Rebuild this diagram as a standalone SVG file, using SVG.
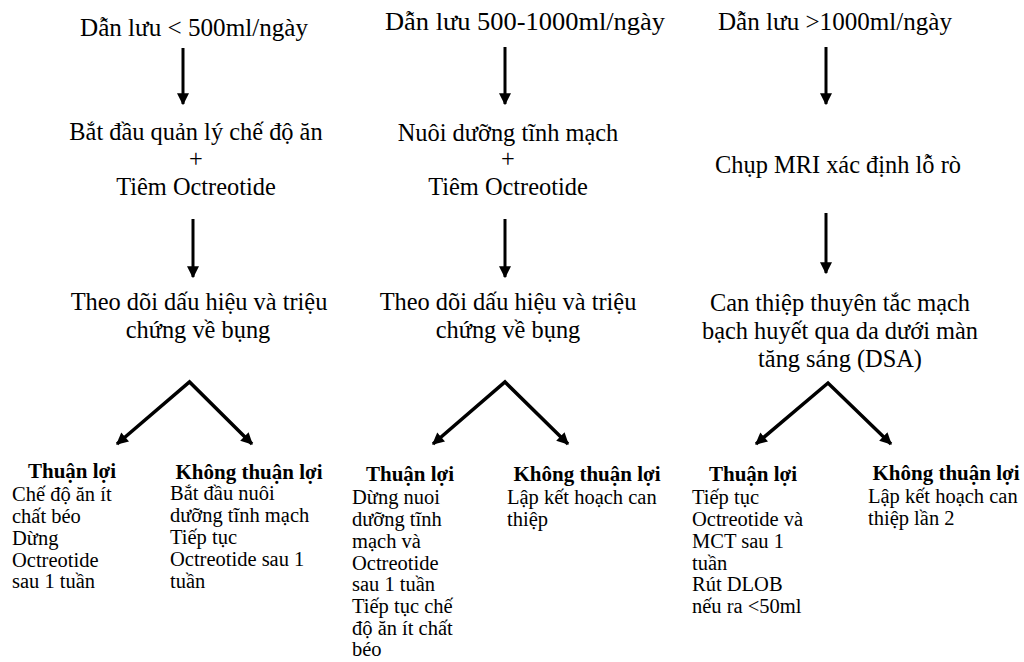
<svg xmlns="http://www.w3.org/2000/svg" width="1024" height="662" viewBox="0 0 1024 662">
<defs>
<style>
text{font-family:"Liberation Serif","Times New Roman",serif;fill:#000}
.t{font-size:26px}
.m{font-size:24.4px;text-anchor:middle}
.h{font-size:21px;font-weight:bold;text-anchor:middle}
.b{font-size:20.5px}
.c{stroke:#000;stroke-width:3;fill:none}
.d{stroke:#000;stroke-width:3.5;fill:none;stroke-linejoin:miter}
</style>
<marker id="ah" viewBox="0 0 10 10" refX="9" refY="5" markerWidth="4" markerHeight="4" orient="auto" markerUnits="strokeWidth">
<path d="M0,0 L10,5 L0,10 z" fill="#000"/>
</marker>
<marker id="ah2" viewBox="0 0 10 10" refX="9" refY="5" markerWidth="3.6" markerHeight="3.4" orient="auto-start-reverse" markerUnits="strokeWidth">
<path d="M0,0 L10,5 L0,10 z" fill="#000"/>
</marker>
</defs>
<rect width="1024" height="662" fill="#fff"/>

<g id="title1"><text class="t" x="80" y="36" textLength="228" lengthAdjust="spacingAndGlyphs">Dẫn lưu &lt; 500ml/ngày</text></g>
<g id="title2"><text class="t" x="385" y="30" textLength="280" lengthAdjust="spacingAndGlyphs">Dẫn lưu 500-1000ml/ngày</text></g>
<g id="title3"><text class="t" x="718" y="30" textLength="234" lengthAdjust="spacingAndGlyphs">Dẫn lưu &gt;1000ml/ngày</text></g>

<g id="step1a"><text class="m" x="196" y="140">Bắt đầu quản lý chế độ ăn</text><text class="m" x="196" y="167">+</text><text class="m" x="196" y="195">Tiêm Octreotide</text></g>
<g id="step2a"><text class="m" x="508" y="141">Nuôi dưỡng tĩnh mạch</text><text class="m" x="508" y="167">+</text><text class="m" x="508" y="195">Tiêm Octreotide</text></g>
<g id="step3a"><text class="m" x="838" y="173">Chụp MRI xác định lỗ rò</text></g>

<g id="step1b"><text class="m" x="199" y="310">Theo dõi dấu hiệu và triệu</text><text class="m" x="198" y="338">chứng về bụng</text></g>
<g id="step2b"><text class="m" x="508" y="310">Theo dõi dấu hiệu và triệu</text><text class="m" x="508" y="338">chứng về bụng</text></g>
<g id="step3b"><text class="m" x="840" y="311">Can thiệp thuyên tắc mạch</text><text class="m" x="840" y="339">bạch huyết qua da dưới màn</text><text class="m" x="840" y="367">tăng sáng (DSA)</text></g>

<g id="res1a"><text class="h" x="72" y="478">Thuận lợi</text><text class="b"><tspan x="12" y="501">Chế độ ăn ít</tspan><tspan x="12" y="523">chất béo</tspan><tspan x="12" y="545">Dừng</tspan><tspan x="12" y="567">Octreotide</tspan><tspan x="12" y="588">sau 1 tuần</tspan></text></g>
<g id="res1b"><text class="h" x="249" y="479">Không thuận lợi</text><text class="b"><tspan x="170" y="500">Bắt đầu nuôi</tspan><tspan x="170" y="522">dưỡng tĩnh mạch</tspan><tspan x="170" y="544">Tiếp tục</tspan><tspan x="170" y="566">Octreotide sau 1</tspan><tspan x="170" y="588">tuần</tspan></text></g>

<g id="res2a"><text class="h" x="410" y="481">Thuận lợi</text><text class="b"><tspan x="352" y="504">Dừng nuoi</tspan><tspan x="352" y="526">dưỡng tĩnh</tspan><tspan x="352" y="548">mạch và</tspan><tspan x="352" y="570">Octreotide</tspan><tspan x="352" y="591">sau 1 tuần</tspan><tspan x="352" y="613">Tiếp tục chế</tspan><tspan x="352" y="635">độ ăn ít chất</tspan><tspan x="352" y="656">béo</tspan></text></g>
<g id="res2b"><text class="h" x="587" y="481">Không thuận lợi</text><text class="b"><tspan x="507" y="504">Lập kết hoạch can</tspan><tspan x="507" y="526">thiệp</tspan></text></g>

<g id="res3a"><text class="h" x="753" y="481">Thuận lợi</text><text class="b"><tspan x="692" y="504">Tiếp tục</tspan><tspan x="692" y="526">Octreotide và</tspan><tspan x="692" y="548">MCT sau 1</tspan><tspan x="692" y="570">tuần</tspan><tspan x="692" y="591">Rút DLOB</tspan><tspan x="692" y="613">nếu ra &lt;50ml</tspan></text></g>
<g id="res3b"><text class="h" x="946" y="480">Không thuận lợi</text><text class="b"><tspan x="868" y="503">Lập kết hoạch can</tspan><tspan x="868" y="525">thiệp lần 2</tspan></text></g>

<g id="connectors">
<line class="c" x1="183" y1="48" x2="183" y2="104" marker-end="url(#ah)"/>
<line class="c" x1="505" y1="47" x2="505" y2="104" marker-end="url(#ah)"/>
<line class="c" x1="826" y1="47" x2="826" y2="104" marker-end="url(#ah)"/>
<line class="c" x1="193" y1="219" x2="193" y2="277" marker-end="url(#ah)"/>
<line class="c" x1="505" y1="219" x2="505" y2="277" marker-end="url(#ah)"/>
<line class="c" x1="826" y1="213" x2="826" y2="273" marker-end="url(#ah)"/>
<path class="d" d="M117,444 L189.5,382 L252,444" marker-start="url(#ah2)" marker-end="url(#ah2)"/>
<path class="d" d="M433,444 L505,382 L568,444" marker-start="url(#ah2)" marker-end="url(#ah2)"/>
<path class="d" d="M756,444 L828,383 L891,444" marker-start="url(#ah2)" marker-end="url(#ah2)"/>
</g>
</svg>
